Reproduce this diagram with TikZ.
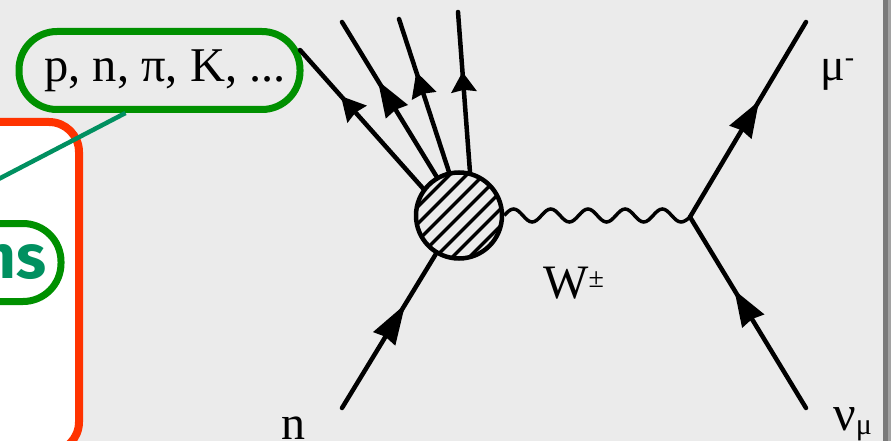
\documentclass[tikz,border=0pt]{standalone}
\usepackage{fontspec}
\setmainfont{Liberation Serif}
\newfontfamily\firabold[BoldFont={Fira Sans Bold}]{Fira Sans}
\usetikzlibrary{arrows.meta,decorations.markings}
\definecolor{PanelGrey}{HTML}{EBEBEB}
\definecolor{EdgeGrey}{HTML}{7A7A7A}
\definecolor{BoxRed}{HTML}{FF3300}
\definecolor{PillGreen}{HTML}{009000}
\definecolor{LinkTeal}{HTML}{009060}

\begin{document}
\begin{tikzpicture}[x=1pt, y=-1pt,
  label46/.style={inner sep=0pt, font=\fontsize{46}{50}\selectfont},
  pill/.style={draw=PillGreen, line width=7pt, rounded corners=38pt, minimum height=78pt},
  leg/.style={line width=4.5pt, line cap=round},
  flow/.style 2 args={postaction={decorate, decoration={markings,
    mark=at position #1 with {\arrow{Stealth[length=#2, width=25pt, inset=2pt]}}}}}]
\useasboundingbox (0,0) rectangle (891,441);
\clip (0,0) rectangle (891,441);
\fill[PanelGrey] (0,0) rectangle (883,441);
\fill[EdgeGrey] (883,0) rectangle (888,441);
\fill[EdgeGrey!70] (888,0) rectangle (891,441);

\node[draw=BoxRed, fill=white, line width=8pt, rounded corners=30pt, minimum width=200pt, minimum height=330pt]
  (selectbox) at (-21,287) {};
\node[pill, minimum width=281pt, label46, font=\fontsize{48.5}{52}\selectfont] (hadrons) at (159.5,70.5) {\hspace{11pt}p, n, π, K, ...};
\coordinate (hadlink) at (-10,183.5);
\draw[LinkTeal, line width=4.5pt] ([xshift=-34pt]hadrons.south) -- (hadlink);
\node[pill, anchor=east, minimum width=110pt, text width=95pt, align=right, inner xsep=15pt,
  text=LinkTeal, font=\firabold\bfseries\fontsize{62}{66}\selectfont] (partons) at (64.5,262.5) {ns};

\node[draw, line width=4.5pt, circle, minimum size=86pt, inner sep=0pt,
  path picture={\foreach \d in {-50,-33,-16,1,18,35,52}
    \draw[line width=3.2pt] ([xshift=\d pt-60pt, yshift=-60pt]path picture bounding box.center)
      -- ([xshift=\d pt+60pt, yshift=60pt]path picture bounding box.center);}] (blob) at (459,215.5) {};
\coordinate (vertex) at (690,217);
\coordinate (outa) at (300,50);
\coordinate (outb) at (342,22);
\coordinate (outc) at (399,19);
\coordinate (outd) at (458,12);
\coordinate (inn) at (342,408);
\coordinate (outmu) at (806,22);
\coordinate (innu) at (806,408);

\draw[leg, flow={0.667}{24pt}] (blob.143) -- (outa);
\draw[leg, flow={0.62}{36pt}] (blob.120) -- (outb);
\draw[leg, flow={0.654}{25pt}] (blob.103) -- (outc);
\draw[leg, flow={0.625}{20pt}] (blob.76) -- (outd);
\draw[leg, flow={0.675}{40pt}] (inn) -- (blob.239);
\draw[leg, flow={0.595}{36pt}] (vertex) -- (outmu);
\draw[leg, flow={0.618}{36pt}] (innu) -- (vertex);
\draw[line width=3.5pt] (blob.east)
  \foreach \k in {1,...,4} {sin ++(9.3,-6.5) cos ++(9.3,6.5) sin ++(9.3,6.5) cos ++(9.3,-6.5)}
  sin ++(9.3,-6.5) cos ++(9.3,6.5) sin ++(9.3,6.5) cos (vertex);

\node[label46, font=\fontsize{48}{50}\selectfont, anchor=base] (nlabel) at (293,439) {n};
\node[label46, font=\fontsize{48}{50}\selectfont, anchor=base west] (wlabel) at (543,298) {W\raisebox{11pt}{\fontsize{28}{28}\selectfont ±}};
\node[label46, anchor=base west] (mulabel) at (820,81) {μ\raisebox{14pt}{\fontsize{28}{28}\selectfont -}};
\node[label46, font=\fontsize{50}{50}\selectfont, anchor=base west] (nulabel) at (833,430) {ν\raisebox{-4pt}{\fontsize{30}{30}\selectfont μ}};
\end{tikzpicture}
\end{document}
